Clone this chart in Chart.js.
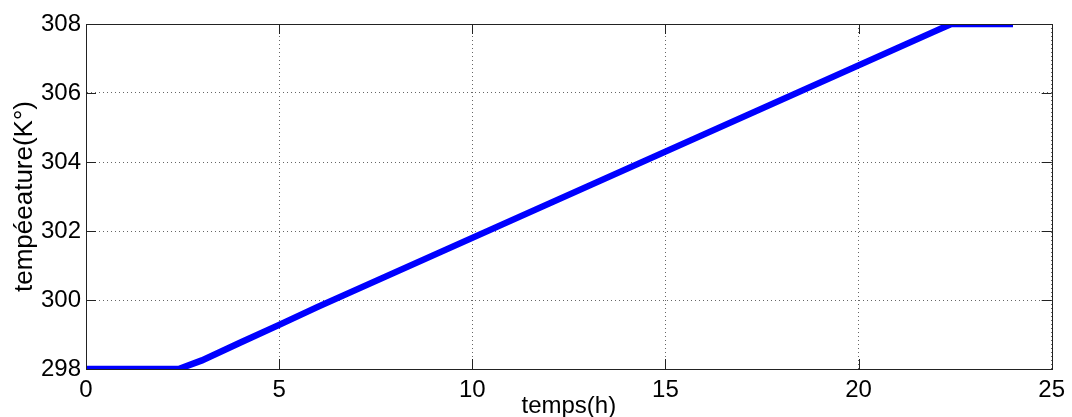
<!DOCTYPE html>
<html>
<head>
<meta charset="utf-8">
<script src="https://cdn.jsdelivr.net/npm/chart.js@4"></script>
<style>
  html, body { margin: 0; padding: 0; background: #fff; }
  #wrap { width: 1072px; height: 417px; }
</style>
</head>
<body>
<div id="wrap"><canvas id="tempChart"></canvas></div>
<script>
// temps (h) et température (K)
const heures = [0, 1, 2, 2.4, 3, 4, 5, 6, 7, 8, 9, 10, 11, 12, 13, 14, 15, 16, 17, 18, 19, 20, 21, 22, 22.4, 23, 24];
const temperature = [298, 298, 298, 298, 298.25, 298.77, 299.28, 299.8, 300.3, 300.8, 301.3, 301.8, 302.3, 302.8, 303.3, 303.8, 304.3, 304.8, 305.3, 305.8, 306.3, 306.8, 307.3, 307.8, 308, 308, 308];
const xTicks = [0, 5, 10, 15, 20, 25];
const yTicks = [298, 300, 302, 304, 306, 308];

const points = heures.map((h, i) => ({ x: h, y: temperature[i] }));
const fontFam = "'Liberation Sans', Arial, sans-serif";

// boite complete + graduations vers l'interieur (style matlab)
const boxTicks = {
    id: "boxTicks",
    afterDraw(chart) {
        const c = chart.ctx;
        const a = chart.chartArea;
        const xs = chart.scales.x, ys = chart.scales.y;
        const len = 10;
        c.save();
        c.strokeStyle = "#222";
        c.lineWidth = 1;
        c.beginPath();
        xs.ticks.forEach(t => {
            const px = Math.round(xs.getPixelForValue(t.value)) + 0.5;
            c.moveTo(px, a.bottom); c.lineTo(px, a.bottom - len);
            c.moveTo(px, a.top); c.lineTo(px, a.top + len);
        });
        ys.ticks.forEach(t => {
            const py = Math.round(ys.getPixelForValue(t.value)) + 0.5;
            c.moveTo(a.left, py); c.lineTo(a.left + len, py);
            c.moveTo(a.right, py); c.lineTo(a.right - len, py);
        });
        c.stroke();
        c.strokeRect(Math.round(a.left) + 0.5, Math.round(a.top) + 0.5,
            Math.round(a.right - a.left), Math.round(a.bottom - a.top));
        c.restore();
    }
};

const ctx = document.getElementById("tempChart").getContext("2d");
new Chart(ctx, {
    type: "line",
    data: {
        datasets: [
            {
                data: points,
                borderColor: "#0000ff",
                borderWidth: 6.5,
                pointRadius: 0,
                tension: 0,
                fill: false,
            },
        ],
    },
    options: {
        responsive: true,
        maintainAspectRatio: false,
        animation: false,
        layout: { padding: { top: 24, right: 20, left: 0, bottom: 0 } },
        plugins: { legend: { display: false }, tooltip: { enabled: false } },
        scales: {
            x: {
                type: "linear",
                min: 0,
                max: 25,
                afterBuildTicks: s => { s.ticks = xTicks.map(v => ({ value: v })); },
                afterFit: s => { s.height = 48; },
                grid: { color: "#666", drawTicks: false },
                border: { color: "#222", dash: [1, 3] },
                ticks: { color: "#000", padding: 7, font: { family: fontFam, size: 24 } },
                title: {
                    display: true,
                    text: "temps(h)",
                    color: "#000",
                    font: { family: fontFam, size: 24 },
                    padding: { top: 0, bottom: -4 },
                },
            },
            y: {
                min: 298,
                max: 308,
                afterBuildTicks: s => { s.ticks = yTicks.map(v => ({ value: v })); },
                afterFit: s => { s.width = 86; },
                grid: { color: "#666", drawTicks: false },
                border: { color: "#222", dash: [1, 3] },
                ticks: { color: "#000", padding: 5, font: { family: fontFam, size: 24 } },
                title: {
                    display: true,
                    text: "tempéeature(K°)",
                    color: "#000",
                    font: { family: fontFam, size: 26 },
                    padding: { top: 9, bottom: 0 },
                },
            },
        },
    },
    plugins: [boxTicks],
});
</script>
</body>
</html>
